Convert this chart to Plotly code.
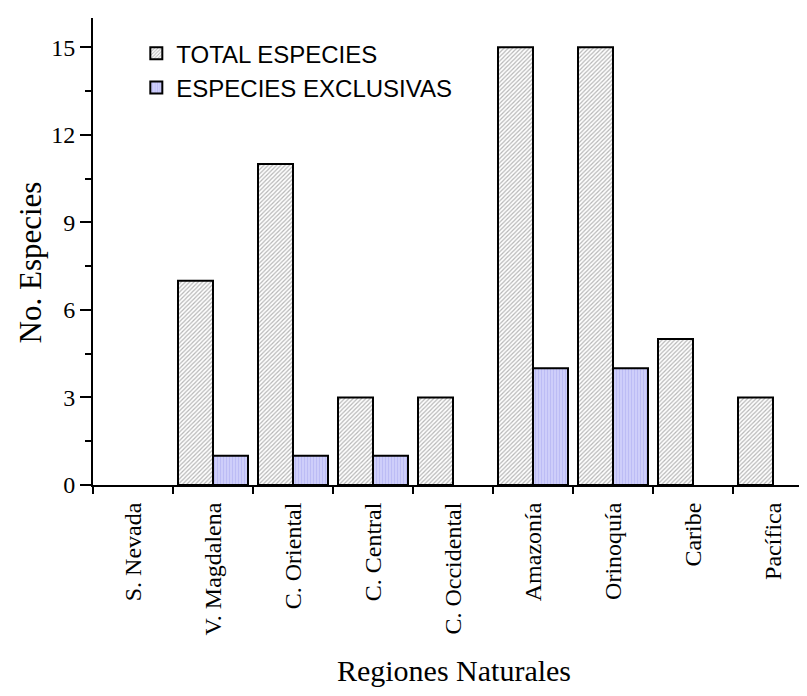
import plotly.graph_objects as go

categories = ["S. Nevada", "V. Magdalena", "C. Oriental", "C. Central", "C. Occidental",
              "Amazonía", "Orinoquía", "Caribe", "Pacífica"]
total_especies = [0, 7, 11, 3, 3, 15, 15, 5, 3]
especies_exclusivas = [0, 1, 1, 1, 0, 4, 4, 0, 0]
y_tickvals = [0, 3, 6, 9, 12, 15]


def hide_zero(values):
    # zero-height bars are not drawn in the reference (no outline at the baseline)
    return [v if v else None for v in values]


fig = go.Figure()
fig.add_trace(go.Bar(
    x=categories, y=hide_zero(total_especies), name="TOTAL ESPECIES",
    marker=dict(color="white", line=dict(color="black", width=2),
                pattern=dict(shape="/", fgcolor="#6e6e6e", bgcolor="white", size=3, solidity=0.4)),
))
fig.add_trace(go.Bar(
    x=categories, y=hide_zero(especies_exclusivas), name="ESPECIES EXCLUSIVAS",
    marker=dict(color="#cfcffa", line=dict(color="black", width=2),
                pattern=dict(shape="|", fgcolor="#a4a4ee", bgcolor="#d4d4fc", size=3, solidity=0.5)),
))

serif = "Liberation Serif, Times New Roman, serif"
fig.update_layout(
    width=807, height=696,
    margin=dict(l=85, r=0, t=10, b=219),
    paper_bgcolor="white", plot_bgcolor="white",
    barmode="group", bargap=0.125, bargroupgap=0,
    showlegend=True,
    legend=dict(x=0.06, y=0.972, xanchor="left", yanchor="top",
                font=dict(family="Liberation Sans, Arial, sans-serif", size=24, color="black"),
                bgcolor="rgba(0,0,0,0)", tracegroupgap=0, traceorder="normal"),
    xaxis=dict(
        type="category", range=[-0.5, 8.525],
        showline=True, linecolor="black", linewidth=2,
        ticks="outside", tickson="boundaries", ticklen=7, tickwidth=2, tickcolor="black",
        ticklabelstandoff=6,
        tickangle=-90, tickfont=dict(family=serif, size=24, color="black"),
        showgrid=False, zeroline=False,
        title=dict(text="Regiones Naturales", font=dict(family=serif, size=30, color="black"), standoff=26),
        automargin=False,
    ),
    yaxis=dict(
        range=[0, 16], tickvals=y_tickvals,
        showline=True, linecolor="black", linewidth=2,
        ticks="outside", ticklen=11, tickwidth=2, tickcolor="black",
        minor=dict(dtick=1.5, tick0=0, ticks="outside", ticklen=6, tickwidth=2, tickcolor="black", showgrid=False),
        tickfont=dict(family=serif, size=24, color="black"),
        showgrid=False, zeroline=False,
        automargin=False,
    ),
    annotations=[dict(
        text="No. Especies", textangle=-90, showarrow=False,
        xref="paper", yref="paper", x=-0.087, y=0.477, xanchor="center", yanchor="middle",
        font=dict(family=serif, size=31, color="black"),
    )],
)

fig.write_html("out.html")
